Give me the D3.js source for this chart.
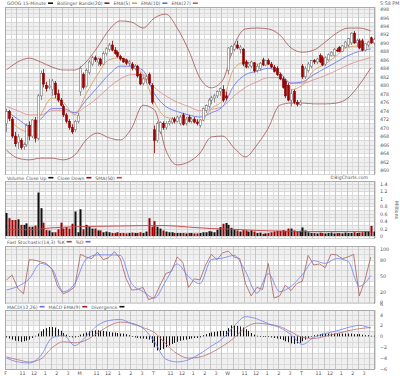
<!DOCTYPE html>
<html>
<head>
<meta charset="utf-8">
<script src="https://cdn.jsdelivr.net/npm/d3@7"></script>
<style>
  body { margin: 0; background: #fff; }
  svg text { font-family: "DejaVu Sans", sans-serif; fill: #555; }
</style>
</head>
<body>
<div id="chart"></div>
<script>
// GOOG 15-minute bars, five sessions of 26 bars
const days = ["F", "M", "T", "W", "T"];
const hourLabels = ["11", "12", "1", "2", "3"];
const hourBars = [6, 10, 14, 18, 22];

const opens = [
  471.0, 473.8, 472.0, 468.0, 466.5, 467.0, 465.5, 466.0, 470.5, 468.0, 471.8, 467.5, 477.5, 482.8, 480.0, 479.5, 479.0, 480.5, 478.0, 476.5, 475.0, 473.0, 471.5, 470.0, 469.5, 471.5,
  478.5, 482.5, 479.8, 483.0, 485.0, 486.5, 485.5, 486.2, 485.0, 487.5, 488.5, 489.5, 488.3, 487.8, 486.8, 486.3, 486.0, 485.2, 485.0, 484.0, 484.5, 482.5, 480.5, 481.5, 482.5, 480.0,
  469.5, 467.0, 469.0, 471.0, 470.0, 471.0, 471.2, 472.0, 471.5, 471.0, 473.0, 471.0, 472.5, 471.5, 472.0, 471.3, 470.5, 471.8, 474.0, 475.0, 476.5, 477.0, 477.5, 478.5, 479.0, 477.5,
  483.5, 487.5, 488.5, 489.5, 488.5, 488.5, 485.5, 484.5, 484.5, 485.3, 483.5, 484.0, 486.0, 484.8, 485.8, 485.0, 484.3, 484.0, 482.5, 481.5, 481.0, 480.0, 476.5, 478.5, 476.0, 475.5,
  484.5, 482.0, 483.5, 484.5, 485.8, 485.5, 487.0, 486.5, 485.0, 486.0, 487.0, 487.0, 488.3, 489.0, 488.0, 489.0, 489.5, 490.0, 492.3, 490.0, 490.5, 490.5, 488.3, 489.5, 491.2, 490.0
];
const highs = [
  474.5, 474.2, 472.5, 469.0, 468.5, 467.5, 466.5, 471.0, 471.5, 472.0, 472.5, 478.0, 483.5, 483.8, 480.8, 481.5, 481.5, 481.0, 479.0, 477.0, 475.5, 473.5, 472.0, 470.8, 471.8, 473.5,
  484.5, 483.0, 484.0, 486.0, 487.0, 487.0, 486.5, 486.5, 488.0, 489.0, 490.0, 490.5, 489.0, 488.2, 487.2, 486.5, 486.3, 486.0, 485.5, 485.0, 484.8, 483.0, 482.0, 482.5, 483.0, 480.5,
  470.5, 471.5, 471.5, 471.5, 471.5, 472.0, 472.5, 472.5, 472.8, 473.0, 473.5, 472.5, 473.0, 472.5, 472.5, 472.0, 472.0, 474.8, 475.5, 477.0, 477.5, 478.0, 478.8, 479.5, 480.0, 478.5,
  489.0, 489.5, 490.0, 490.5, 489.5, 488.8, 486.0, 485.5, 485.8, 485.5, 485.0, 485.5, 486.5, 486.0, 486.3, 485.5, 484.8, 484.5, 483.0, 482.0, 481.5, 480.5, 479.0, 479.0, 476.5, 476.5,
  485.0, 484.5, 485.5, 486.0, 486.2, 486.5, 487.5, 487.0, 486.8, 487.5, 488.0, 488.8, 488.8, 489.2, 489.5, 490.5, 491.2, 492.5, 492.8, 491.0, 491.0, 491.0, 490.0, 490.5, 491.5, 491.2
];
const lows = [
  469.0, 471.5, 467.5, 465.5, 465.0, 464.8, 464.8, 465.5, 467.0, 467.5, 466.5, 467.0, 476.5, 479.5, 478.5, 479.0, 477.5, 477.0, 476.0, 475.0, 472.5, 471.0, 469.5, 468.5, 469.0, 471.0,
  477.5, 479.0, 479.5, 482.5, 484.5, 485.5, 484.5, 484.5, 484.8, 487.0, 488.0, 488.0, 487.2, 486.5, 485.8, 485.3, 484.8, 484.5, 483.5, 483.5, 481.8, 480.0, 480.0, 480.5, 480.0, 475.5,
  464.0, 466.5, 468.5, 469.5, 469.5, 470.5, 470.8, 471.0, 471.2, 470.5, 470.5, 470.5, 471.2, 471.0, 471.0, 470.5, 470.0, 471.5, 473.5, 474.5, 475.5, 476.0, 477.0, 477.5, 476.0, 476.5,
  482.5, 487.0, 488.0, 488.5, 487.5, 484.5, 484.0, 484.0, 484.0, 483.0, 483.0, 483.5, 484.5, 484.5, 484.8, 484.0, 483.0, 482.2, 481.2, 479.2, 477.0, 476.2, 475.0, 475.5, 475.0, 475.2,
  481.5, 481.5, 483.0, 484.0, 485.0, 485.0, 485.2, 484.5, 484.5, 485.8, 486.8, 486.8, 487.8, 487.8, 487.8, 488.8, 489.0, 489.5, 489.8, 489.0, 488.5, 488.0, 488.0, 489.0, 489.8, 489.5
];
const closes = [
  473.8, 472.2, 468.0, 466.2, 467.8, 465.3, 466.0, 470.5, 468.0, 471.8, 467.5, 477.5, 482.8, 480.3, 479.2, 479.8, 481.0, 477.8, 476.5, 475.3, 473.0, 471.5, 470.0, 469.0, 471.5, 472.8,
  484.0, 479.5, 483.5, 485.5, 486.5, 486.0, 486.2, 485.0, 487.5, 488.6, 489.5, 488.3, 487.5, 486.8, 486.2, 485.5, 485.2, 485.5, 484.0, 484.5, 482.2, 480.3, 481.5, 482.0, 480.5, 476.0,
  467.0, 471.0, 471.2, 470.0, 471.0, 471.5, 472.0, 471.5, 472.5, 472.5, 470.8, 472.0, 471.5, 472.0, 471.3, 471.0, 471.8, 474.5, 475.2, 476.5, 477.0, 477.5, 478.5, 479.2, 476.5, 477.0,
  488.8, 489.2, 489.5, 488.8, 489.0, 485.0, 484.3, 485.0, 485.5, 483.4, 484.5, 485.2, 484.8, 485.8, 485.0, 484.3, 483.3, 482.5, 481.5, 479.5, 477.5, 476.5, 478.0, 476.0, 475.5, 476.0,
  482.0, 484.0, 485.0, 485.8, 485.5, 486.2, 485.5, 484.8, 486.5, 487.2, 487.8, 488.5, 488.2, 488.0, 489.3, 490.2, 491.0, 492.3, 490.0, 490.5, 488.8, 488.3, 489.8, 490.2, 490.0, 490.8
];
const volumes = [
  0.62, 0.48, 0.43, 0.43, 0.45, 0.30, 0.30, 0.34, 0.25, 0.25, 0.28, 1.17, 0.75, 0.36, 0.16, 0.15, 0.10, 0.10, 0.18, 0.36, 0.20, 0.24, 0.20, 0.33, 0.66, 0.10,
  0.72, 0.18, 0.30, 0.24, 0.20, 0.20, 0.15, 0.15, 0.10, 0.12, 0.10, 0.08, 0.08, 0.10, 0.08, 0.08, 0.07, 0.08, 0.09, 0.08, 0.08, 0.10, 0.08, 0.12, 0.48, 0.25,
  0.40, 0.25, 0.20, 0.15, 0.12, 0.10, 0.10, 0.08, 0.08, 0.08, 0.08, 0.07, 0.08, 0.08, 0.07, 0.07, 0.08, 0.10, 0.10, 0.13, 0.12, 0.10, 0.17, 0.24, 0.33, 0.35,
  0.30, 0.22, 0.17, 0.15, 0.12, 0.16, 0.15, 0.12, 0.15, 0.12, 0.08, 0.09, 0.06, 0.07, 0.08, 0.10, 0.12, 0.14, 0.14, 0.16, 0.14, 0.20, 0.20, 0.15, 0.12, 0.14,
  0.23, 0.15, 0.10, 0.08, 0.08, 0.07, 0.09, 0.08, 0.07, 0.08, 0.09, 0.07, 0.08, 0.08, 0.07, 0.09, 0.08, 0.08, 0.10, 0.08, 0.09, 0.10, 0.12, 0.12, 0.27, 0.12
];
// sampled every 8 bars
const volSma = [0.17, 0.17, 0.22, 0.25, 0.26, 0.27, 0.28, 0.28, 0.24, 0.20, 0.18, 0.15, 0.13, 0.12, 0.12, 0.12, 0.12];

// overlays sampled every 4 bars
const bbUpper = [483.6, 485.5, 486.4, 485.5, 484.3, 483.6, 483.6, 485.5, 489.0, 493.0, 495.2, 494.9, 493.5, 495.9, 496.8, 493.5, 488.3, 481.7, 479.4, 481.2, 489.5, 493.3, 493.5, 493.3, 491.9, 488.8, 487.8, 488.3, 490.2, 492.3, 493.5, 493.5, 492.8];
const bbLower = [464.7, 462.8, 462.4, 462.8, 462.8, 462.4, 463.5, 467.1, 468.7, 467.6, 467.1, 469.9, 475.3, 474.2, 464.7, 461.2, 461.9, 464.0, 467.8, 468.0, 465.2, 463.1, 465.9, 469.9, 475.3, 475.8, 475.8, 475.6, 475.6, 475.8, 477.0, 480.1, 484.1];
const emaFast = [473.0, 470.0, 469.0, 473.0, 477.0, 476.0, 473.0, 478.0, 482.5, 486.0, 486.5, 485.0, 482.5, 476.0, 472.5, 472.0, 471.8, 471.5, 474.5, 476.5, 484.0, 485.5, 485.0, 485.0, 482.0, 479.0, 480.0, 483.5, 485.0, 487.0, 489.0, 489.3, 489.8];
const emaMid = [474.0, 472.0, 470.5, 472.0, 474.5, 474.5, 473.5, 476.5, 479.5, 482.5, 484.5, 484.5, 483.5, 478.0, 475.0, 473.8, 473.0, 472.5, 473.5, 475.0, 480.0, 482.5, 483.3, 484.0, 483.0, 480.5, 480.8, 482.5, 484.0, 485.5, 487.0, 488.0, 488.6];
const emaSlow = [475.0, 474.0, 473.0, 473.0, 474.0, 474.0, 473.5, 475.0, 477.0, 479.5, 481.5, 482.5, 482.5, 479.5, 477.5, 476.0, 475.0, 474.0, 474.3, 475.0, 477.5, 479.5, 480.8, 481.8, 481.8, 480.5, 480.5, 481.3, 482.3, 483.5, 484.8, 485.8, 486.5];

// stochastics: %K every 2 bars, %D every 4 bars
const stochK = [42, 51, 26, 16, 80, 79, 76, 73, 62, 30, 16, 21, 29, 90, 85, 82, 94, 80, 84, 95, 82, 45, 23, 24, 28, 5, 9, 32, 54, 58, 85, 75, 28,
  44, 42, 70, 90, 80, 93, 96, 85, 82, 35, 12, 28, 24, 73, 8, 12, 32, 22, 35, 40, 88, 70, 72, 65, 90, 89, 82, 85, 90, 12, 42, 85];
const stochD = [23, 30, 44, 73, 63, 20, 35, 81, 89, 89, 88, 35, 20, 8, 40, 72, 48, 35, 80, 83, 88, 58, 17, 54, 20, 30, 52, 78, 73, 82, 77, 30, 50];

// MACD and signal every 4 bars, divergence every bar
const macdLine = [-4.0, -4.7, -4.9, -3.6, -0.3, 0.2, -1.7, 0.0, 2.0, 2.9, 3.1, 2.3, 1.5, -1.0, -4.2, -4.7, -4.3, -3.2, -1.8, -0.4, 1.9, 3.6, 3.2, 2.3, 1.6, 0.3, -1.5, -0.2, 0.5, 1.0, 1.6, 2.0, 1.5];
const macdSignal = [-3.8, -4.3, -4.7, -4.2, -2.1, -1.0, -1.2, -0.7, 0.6, 1.9, 2.6, 2.4, 1.6, 0.7, -1.4, -3.2, -4.0, -3.8, -3.0, -1.8, -0.3, 1.6, 2.4, 2.2, 1.8, 0.8, -0.2, -0.4, 0.0, 0.5, 1.0, 1.4, 1.6];
const macdHist = [
  -0.2, -0.4, -0.6, -0.8, -0.9, -1.0, -0.9, -0.8, -0.6, -0.3, 0.1, 0.5, 0.9, 1.3, 1.5, 1.7, 1.7, 1.6, 1.3, 1.0, 0.6, 0.3, -0.1, -0.2, -0.2, -0.1,
  0.3, 0.5, 0.7, 0.9, 1.0, 1.1, 1.1, 1.0, 1.0, 0.9, 0.8, 0.7, 0.7, 0.6, 0.5, 0.5, 0.4, 0.2, 0.0, -0.2, -0.3, -0.4, -0.4, -0.5, -0.6, -1.2,
  -2.0, -2.6, -2.5, -2.3, -2.0, -1.7, -1.4, -1.2, -1.0, -0.8, -0.7, -0.6, -0.5, -0.4, -0.3, -0.3, -0.2, 0.2, 0.4, 0.6, 0.7, 0.8, 0.9, 1.0, 1.0, 1.0,
  1.5, 2.0, 2.0, 1.9, 1.8, 1.6, 1.3, 1.0, 0.6, 0.3, 0.1, 0.0, -0.1, -0.1, -0.1, -0.2, -0.3, -0.4, -0.5, -0.7, -0.9, -1.1, -1.3, -1.4, -1.3, -1.2,
  -0.9, -0.6, -0.3, 0.0, 0.2, 0.3, 0.4, 0.5, 0.5, 0.5, 0.5, 0.5, 0.5, 0.5, 0.5, 0.5, 0.5, 0.5, 0.4, 0.4, 0.4, 0.3, 0.2, 0.2, 0.1, 0.1
];

const priceTicks = d3.range(460, 499, 2);
const volTicks = [0, 0.2, 0.4, 0.6, 0.8, 1, 1.2, 1.4];
const stochTicks = [0, 20, 50, 80, 100];
const macdTicks = [-6, -4, -2, 0, 2, 4, 6];

const nBars = closes.length;
const svg = d3.select("#chart").append("svg")
  .attr("width", 400)
  .attr("height", 376);

svg.append("rect").attr("width", 400).attr("height", 376).attr("fill", "#fff");

const x = d3.scaleLinear().domain([0, nBars]).range([5, 375]);
const cx = i => x(i + 0.5);

const panels = {
  main:  { top: 7,   bottom: 174, step: 1,    y: d3.scaleLinear().domain([460, 498]).range([170, 9]) },
  vol:   { top: 181, bottom: 238, step: 0.1,  y: d3.scaleLinear().domain([0, 1.4]).range([236, 184]) },
  stoch: { top: 246, bottom: 303, step: 10,   y: d3.scaleLinear().domain([0, 100]).range([302.3, 249]) },
  macd:  { top: 310, bottom: 369, step: 1,    y: d3.scaleLinear().domain([-6, 6]).range([369, 303.6]) }
};

// grid for each panel
Object.entries(panels).forEach(([name, p]) => {
  const g = svg.append("g");
  const lo = p.y.invert(p.bottom), hi = p.y.invert(p.top);
  const vals = d3.range(Math.ceil(lo / p.step) * p.step, hi, p.step);
  vals.forEach((v, k) => {
    if (k % 4 < 2) {
      const y0 = Math.min(p.bottom, p.y(v)), y1 = Math.max(p.top, p.y(v + p.step * 2));
      g.append("rect").attr("x", 5).attr("width", 370)
        .attr("y", y1).attr("height", Math.max(0, y0 - y1)).attr("fill", "#f0f0f0");
    }
  });
  g.selectAll("line.h").data(vals).enter().append("line")
    .attr("x1", 5).attr("x2", 375)
    .attr("y1", d => Math.round(p.y(d)) + 0.5).attr("y2", d => Math.round(p.y(d)) + 0.5)
    .attr("stroke", "#dadada").attr("stroke-width", 1);
  g.selectAll("line.v").data(d3.range(0, nBars + 1, 2)).enter().append("line")
    .attr("x1", d => Math.round(x(d)) + 0.5).attr("x2", d => Math.round(x(d)) + 0.5)
    .attr("y1", p.top).attr("y2", p.bottom)
    .attr("stroke", d => d % 4 === 0 ? "#c6c6c6" : "#dcdcdc").attr("stroke-width", 1);
  g.append("rect").attr("x", 5.5).attr("y", p.top + 0.5).attr("width", 369).attr("height", p.bottom - p.top)
    .attr("fill", "none").attr("stroke", "#aaa");

  svg.append("clipPath").attr("id", "clip-" + name)
    .append("rect").attr("x", 5).attr("y", p.top).attr("width", 370).attr("height", p.bottom - p.top);
});

// --- main panel ---
const yP = panels.main.y;
const main = svg.append("g").attr("clip-path", "url(#clip-main)");

const lineSampled = (arr, step, y) => d3.line()
  .x((d, k) => cx(k * step))
  .y(d => y(d))
  .curve(d3.curveMonotoneX)(arr);

[[bbUpper, "#a65252", 0.8], [bbLower, "#a65252", 0.8], [emaSlow, "#e08a8a", 0.8], [emaMid, "#6d7cf2", 0.9], [emaFast, "#d9a066", 0.9]]
  .forEach(([arr, col, w]) => {
    main.append("path").attr("d", lineSampled(arr, 4, yP))
      .attr("fill", "none").attr("stroke", col).attr("stroke-width", w);
  });

const candles = main.selectAll("g.c").data(d3.range(nBars)).enter().append("g");
candles.append("line")
  .attr("x1", i => Math.round(cx(i)) + 0.5).attr("x2", i => Math.round(cx(i)) + 0.5)
  .attr("y1", i => yP(highs[i])).attr("y2", i => yP(lows[i]))
  .attr("stroke", i => closes[i] >= opens[i] ? "#777" : "#8b0000").attr("stroke-width", 0.8);
candles.append("rect")
  .attr("x", i => Math.round(cx(i)) - 0.5)
  .attr("width", 2)
  .attr("y", i => yP(Math.max(opens[i], closes[i])))
  .attr("height", i => Math.max(0.8, Math.abs(yP(opens[i]) - yP(closes[i]))))
  .attr("fill", i => closes[i] >= opens[i] ? "#fff" : "#a00000")
  .attr("stroke", i => closes[i] >= opens[i] ? "#777" : "#8b0000")
  .attr("stroke-width", 0.6);

// --- volume ---
const yV = panels.vol.y;
const vol = svg.append("g").attr("clip-path", "url(#clip-vol)");
vol.selectAll("rect").data(volumes).enter().append("rect")
  .attr("x", (d, i) => Math.round(cx(i)) - 0.5)
  .attr("width", 2)
  .attr("y", d => yV(d))
  .attr("height", d => yV(0) - yV(d))
  .attr("fill", (d, i) => (i === 0 || closes[i] >= closes[i - 1]) ? "#111" : "#a00000");
vol.append("path").attr("d", lineSampled(volSma, 8, yV))
  .attr("fill", "none").attr("stroke", "#c84040").attr("stroke-width", 0.9);

// --- stochastics ---
const yS = panels.stoch.y;
const stoch = svg.append("g").attr("clip-path", "url(#clip-stoch)");
stoch.append("path")
  .attr("d", d3.line().x((d, k) => cx(k * 2)).y(d => yS(d))(stochK))
  .attr("fill", "none").attr("stroke", "#a86060").attr("stroke-width", 0.8);
stoch.append("path").attr("d", lineSampled(stochD, 4, yS))
  .attr("fill", "none").attr("stroke", "#7080f0").attr("stroke-width", 0.8);

// --- MACD ---
const yM = panels.macd.y;
const macd = svg.append("g").attr("clip-path", "url(#clip-macd)");
macd.selectAll("rect").data(macdHist).enter().append("rect")
  .attr("x", (d, i) => Math.round(cx(i)))
  .attr("width", 1)
  .attr("y", d => yM(Math.max(0, d)))
  .attr("height", d => Math.max(0.6, Math.abs(yM(d) - yM(0))))
  .attr("fill", "#111");
macd.append("path").attr("d", lineSampled(macdSignal, 4, yM))
  .attr("fill", "none").attr("stroke", "#b87070").attr("stroke-width", 0.8);
macd.append("path").attr("d", lineSampled(macdLine, 4, yM))
  .attr("fill", "none").attr("stroke", "#7080f0").attr("stroke-width", 0.8);

// --- right axes ---
const axisRight = (p, ticks, fmt) => {
  const g = svg.append("g").attr("transform", "translate(378,0)")
    .call(d3.axisRight(p.y).tickValues(ticks).tickSize(0).tickPadding(2).tickFormat(fmt));
  g.select(".domain").remove();
  g.selectAll("text").attr("font-size", 4.8).attr("fill", "#666").style("font-family", "DejaVu Sans, sans-serif");
};
axisRight(panels.main, priceTicks, d3.format("d"));
axisRight(panels.vol, volTicks, d => String(d));
axisRight(panels.stoch, stochTicks, d3.format("d"));
axisRight(panels.macd, macdTicks, d3.format("d"));

svg.append("text").attr("x", 380).attr("y", 5).attr("font-size", 4.8).text("5:58 PM");
svg.append("text").attr("transform", "translate(395,210) rotate(90)")
  .attr("font-size", 4.8).attr("text-anchor", "middle").text("Millions");

// --- bottom axis ---
const tickBars = [], tickText = [];
days.forEach((d, k) => {
  tickBars.push(k * 26); tickText.push(d);
  hourBars.forEach((h, j) => { tickBars.push(k * 26 + h); tickText.push(hourLabels[j]); });
});
const bx = svg.append("g").attr("transform", "translate(0,369)")
  .call(d3.axisBottom(x).tickValues(tickBars).tickSize(0).tickPadding(3)
    .tickFormat((d, i) => tickText[i]));
bx.select(".domain").remove();
bx.selectAll("text").attr("font-size", 4.8).attr("fill", "#555").style("font-family", "DejaVu Sans, sans-serif");

// --- legends ---
const legend = (y, items) => {
  let px = 7;
  items.forEach(([label, col]) => {
    const t = svg.append("text").attr("x", px).attr("y", y).attr("font-size", 4.6).text(label);
    px += t.node().getComputedTextLength() + 2;
    if (col) {
      svg.append("rect").attr("x", px).attr("y", y - 2.6).attr("width", 5).attr("height", 1.6).attr("fill", col);
      px += 9;
    }
  });
};
const legendBg = (y0, h) => svg.append("rect").attr("x", 6).attr("y", y0).attr("width", 368).attr("height", h).attr("fill", "#fff");
legendBg(174.5, 6.5);
legendBg(238.5, 7.5);
legendBg(303.5, 6.5);

legend(5, [["GOOG 15-Minute", "#111"], ["Bollinger Bands(20)", "#8b2020"], ["EMA(5)", "#d9a066"], ["EMA(10)", "#5a6cf0"], ["EMA(27)", "#e05050"]]);
legend(179.5, [["Volume", null], ["Close Up", "#111"], ["Close Down", "#b00000"], ["SMA(50)", "#c84040"]]);
legend(243.5, [["Fast Stochastic(14,3)", null], ["%K", "#a04040"], ["%D", "#5a6cf0"]]);
legend(308.5, [["MACD(12,26)", "#5a6cf0"], ["MACD EMA(9)", "#a02020"], ["Divergence", "#111"]]);

svg.append("text").attr("x", 368).attr("y", 179).attr("text-anchor", "end").attr("font-size", 4.6).text("\u00a9BigCharts.com");
</script>
</body>
</html>
